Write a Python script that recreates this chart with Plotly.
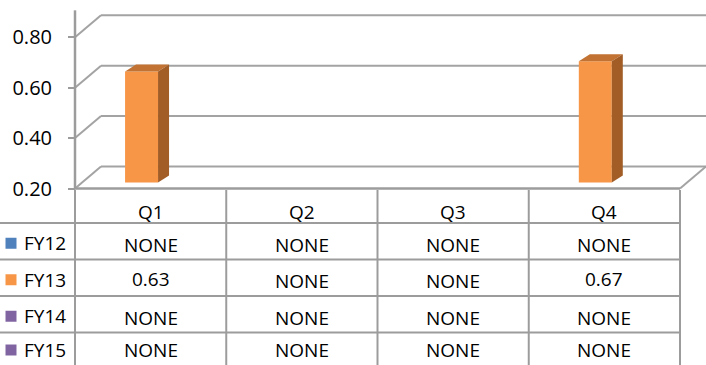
import plotly.graph_objects as go

# ---------------- data ----------------
quarters = ["Q1", "Q2", "Q3", "Q4"]
series_names = ["FY12", "FY13", "FY14", "FY15"]
fy12 = [None, None, None, None]
fy13 = [0.63, None, None, 0.67]
fy14 = [None, None, None, None]
fy15 = [None, None, None, None]
series_values = [fy12, fy13, fy14, fy15]
series_colors = ["#4F81BD", "#F79646", "#8064A2", "#8064A2"]
ytick_vals = [0.2, 0.4, 0.6, 0.8]
ytick_text = ["0.20", "0.40", "0.60", "0.80"]

# ---------------- styling / geometry ----------------
W, H = 706, 365
FONT = "Open Sans"
GRID = "#A3A3A3"
LINE = "#9C9C9C"
PX_LEFT, PX_RIGHT = 75, 680          # plot front edge in pixels
UNIT = (PX_RIGHT - PX_LEFT) / 4.0     # pixels per category
def px_x(px):
    return (px - PX_LEFT) / UNIT

x_range = [px_x(0), px_x(W)]
TABLE_TOP = 190
y_dom_split = 1 - TABLE_TOP / H

# main value axis (front): 0.2 at py 188.5, 252 px/unit
K_MAIN = 252.0
FLOOR_PY = 188.5
y_range = [0.2 - (TABLE_TOP - FLOOR_PY) / K_MAIN, 0.2 + FLOOR_PY / K_MAIN]
# bar axis (bars sit slightly deeper in the 3D box)
K_BAR = 258.0
BAR_BASE_PY = 182.5
y3_range = [0.2 - (TABLE_TOP - BAR_BASE_PY) / K_BAR, 0.2 + BAR_BASE_PY / K_BAR]

# wall depth offsets
DXW = 26 / UNIT
DYW = 22 / K_MAIN
# bar depth offsets
DXB = 11 / UNIT
DYB = 7 / K_BAR
BAR_W = 0.218
GROUP_LEFT = 0.113

fig = go.Figure()

shapes = []
# back wall gridlines + side wall diagonals
for v in ytick_vals:
    shapes.append(dict(type="line", xref="x", yref="y", x0=DXW, y0=v + DYW, x1=4 + DXW, y1=v + DYW,
                       line=dict(color=GRID, width=2), layer="below"))
    shapes.append(dict(type="line", xref="x", yref="y", x0=0, y0=v, x1=DXW, y1=v + DYW,
                       line=dict(color=GRID, width=2), layer="below"))
# floor front edge and right edge
shapes.append(dict(type="line", xref="x", yref="y", x0=0, y0=0.2, x1=4, y1=0.2,
                   line=dict(color=LINE, width=2.5), layer="below"))
shapes.append(dict(type="line", xref="x", yref="y", x0=4, y0=0.2, x1=4 + DXW, y1=0.2 + DYW,
                   line=dict(color=GRID, width=2), layer="below"))
# vertical axis line
shapes.append(dict(type="line", xref="x", yref="y", x0=0, y0=0.2, x1=0, y1=0.907,
                   line=dict(color=LINE, width=2.5), layer="below"))

# ---------------- bars (pseudo 3D) ----------------
for k, (name, vals, col) in enumerate(zip(series_names, series_values, series_colors)):
    xs, ys = [], []
    for i, v in enumerate(vals):
        if v is None:
            continue
        x0 = i + GROUP_LEFT + k * BAR_W
        x1 = x0 + BAR_W
        xs.append((x0 + x1) / 2)
        ys.append(v - 0.2)
        # top face
        fig.add_trace(go.Scatter(
            x=[x0, x1, x1 + DXB, x0 + DXB, x0], y=[v, v, v + DYB, v + DYB, v],
            mode="lines", fill="toself", fillcolor="#C27232", line=dict(width=0),
            xaxis="x", yaxis="y3", hoverinfo="skip", showlegend=False))
        # side face
        fig.add_trace(go.Scatter(
            x=[x1, x1 + DXB, x1 + DXB, x1, x1], y=[0.2, 0.2 + DYB, v + DYB, v, 0.2],
            mode="lines", fill="toself", fillcolor="#A25D27", line=dict(width=0),
            xaxis="x", yaxis="y3", hoverinfo="skip", showlegend=False))
    if xs:
        fig.add_trace(go.Bar(x=xs, y=ys, base=0.2, width=BAR_W, marker=dict(color=col, line=dict(width=0)),
                             xaxis="x", yaxis="y3", name=name, showlegend=False))

# ---------------- data table ----------------
HEADER_H = 33.0
ROW_H = 36.5
TABLE_H = H - TABLE_TOP
TEXT_MAX_Y = TABLE_H - 15
row_tops = [HEADER_H + r * ROW_H for r in range(len(series_names))]
TFONT = dict(family=FONT, size=19, color="black")

# horizontal lines
for yt in row_tops:
    shapes.append(dict(type="line", xref="x", yref="y2", x0=px_x(0), y0=yt, x1=4, y1=yt,
                       line=dict(color=LINE, width=2), layer="below"))
# vertical lines
for c in range(len(quarters) + 1):
    shapes.append(dict(type="line", xref="x", yref="y2", x0=c, y0=0, x1=c, y1=TABLE_H + 5,
                       line=dict(color=LINE, width=2), layer="below"))

annotations = []
for i, q in enumerate(quarters):
    annotations.append(dict(x=i + 0.5, y=HEADER_H / 2 + 5, xref="x", yref="y2", text=q, showarrow=False,
                            font=TFONT, xanchor="center", yanchor="middle"))
for r, (name, vals) in enumerate(zip(series_names, series_values)):
    yc = row_tops[r] + ROW_H / 2
    for i, v in enumerate(vals):
        txt = "NONE" if v is None else f"{v:.2f}"
        ty = min(yc + (3.5 if v is None else 1), TEXT_MAX_Y)
        annotations.append(dict(x=i + 0.5, y=ty, xref="x", yref="y2", text=txt,
                                showarrow=False, font=TFONT, xanchor="center", yanchor="middle"))
    annotations.append(dict(x=px_x(22), y=min(yc + 2, TEXT_MAX_Y), xref="x", yref="y2", text=name,
                            showarrow=False, font=TFONT, xanchor="left", yanchor="middle"))

fig.add_trace(go.Scatter(
    x=[px_x(11)] * len(series_names), y=[min(t + ROW_H / 2 + 2, TEXT_MAX_Y) for t in row_tops],
    mode="markers", marker=dict(symbol="square", size=11, color=series_colors, line=dict(width=0)),
    xaxis="x", yaxis="y2", hoverinfo="skip", showlegend=False))

fig.update_layout(
    width=W, height=H, autosize=False,
    margin=dict(l=0, r=0, t=0, b=0, pad=0, autoexpand=False),
    paper_bgcolor="white", plot_bgcolor="white",
    showlegend=False,
    barmode="overlay",
    xaxis=dict(domain=[0, 1], range=x_range, visible=False, fixedrange=True, automargin=False),
    yaxis=dict(domain=[y_dom_split, 1], range=y_range, anchor="free", position=PX_LEFT / W,
               showgrid=False, zeroline=False, showline=False, automargin=False,
               tickmode="array", tickvals=ytick_vals, ticktext=ytick_text,
               ticks="outside", ticklen=7, tickwidth=2, tickcolor=LINE,
               ticklabelstandoff=12,
               tickfont=dict(family=FONT, size=20, color="black")),
    yaxis2=dict(domain=[0, y_dom_split], range=[TABLE_H, 0], anchor="x", visible=False, automargin=False),
    yaxis3=dict(range=y3_range, overlaying="y", anchor="x", visible=False, automargin=False),
    shapes=shapes,
    annotations=annotations,
)

post = (
    "var de=document.documentElement, bd=document.body;"
    "[de, bd].forEach(function(e){e.style.margin='0';e.style.padding='0';e.style.overflow='hidden';});"
)
fig.write_html("out.html", config={"displayModeBar": False, "responsive": False}, post_script=post)
